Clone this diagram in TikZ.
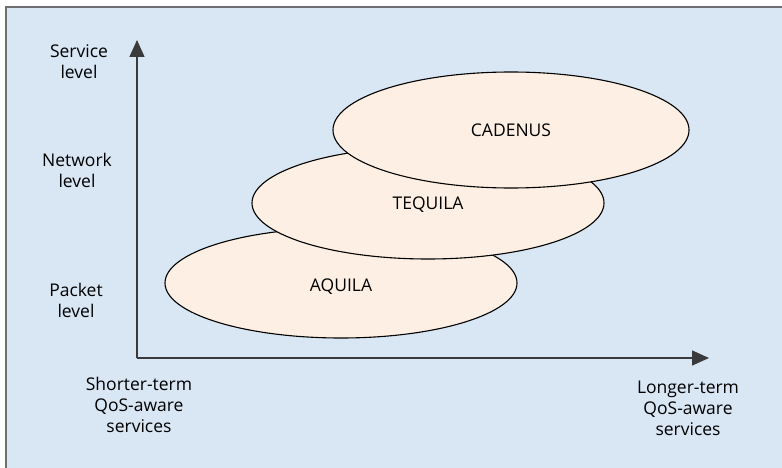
\documentclass[tikz,border=0pt]{standalone}
\usepackage{fontspec}
\setmainfont{Open Sans}
\usetikzlibrary{arrows.meta}
\definecolor{bgblue}{HTML}{D9E6F4}
\definecolor{peach}{HTML}{FDEFE3}
\definecolor{framegray}{HTML}{6D6E71}
\definecolor{axisgray}{HTML}{3A3A3C}
\tikzset{
  lbl/.style={align=center, font=\fontsize{17.5}{21}\selectfont, text=black, inner sep=0pt},
  blob/.style={draw=black, line width=1.1pt, fill=peach},
  axis/.style={draw=axisgray, line width=1.4pt, -{Triangle[length=17pt,width=15pt]}},
}
\begin{document}
\begin{tikzpicture}[x=1pt,y=-1pt]
\useasboundingbox (0,0) rectangle (782,468);
\fill[framegray] (5,6) rectangle (782,468);
\fill[bgblue] (7,8) rectangle (782,468);
% ellipses
\fill[blob] (341,283) ellipse [x radius=176, y radius=55];
\node[lbl] (aq) at (341,287) {AQUILA};
\fill[blob] (428,203) ellipse [x radius=176, y radius=56];
\node[lbl] (te) at (428,205) {TEQUILA};
\fill[blob] (511,130) ellipse [x radius=178, y radius=58];
\node[lbl] (ca) at (511,130) {CADENUS};
% axes
\coordinate (o) at (137,358);
\coordinate (yt) at (137,40);
\coordinate (xt) at (709,358);
\draw[axis] (o) -- (yt);
\draw[axis] (o) -- (xt);
% labels
\node[lbl] (sl) at (79,62) {Service\\level};
\node[lbl] (nl) at (77,170) {Network\\level};
\node[lbl] (pl) at (76,300) {Packet\\level};
\node[lbl] (st) at (139,405) {Shorter-term\\QoS-aware\\services};
\node[lbl] (lt) at (688,408) {Longer-term\\QoS-aware\\services};
\end{tikzpicture}
\end{document}
